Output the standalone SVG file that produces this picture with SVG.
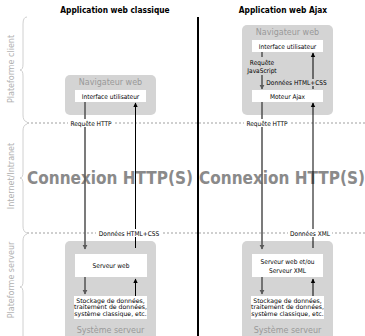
<svg xmlns="http://www.w3.org/2000/svg" width="365" height="336" viewBox="0 0 365 336">
  <defs>
    <style>
      .title { font-family: "DejaVu Sans Condensed", "DejaVu Sans", sans-serif; font-weight: bold; font-size: 8.3px; fill: #000; text-anchor: middle; }
      .big { font-family: "DejaVu Sans Condensed", "DejaVu Sans", sans-serif; font-weight: bold; font-size: 17px; fill: #8a8a8a; text-anchor: middle; }
      .grey { font-family: "DejaVu Sans", sans-serif; font-size: 8px; fill: #999; text-anchor: middle; }
      .side { font-family: "DejaVu Sans", sans-serif; font-size: 8px; fill: #b0b0b0; text-anchor: middle; }
      .small { font-family: "DejaVu Sans Condensed", "DejaVu Sans", sans-serif; font-size: 6.5px; fill: #000; text-anchor: middle; }
      .store { font-family: "DejaVu Sans", sans-serif; font-size: 6.2px; fill: #000; text-anchor: middle; }
      .panel { fill: #d4d4d4; }
      .inner { fill: #fff; }
      .brace { fill: none; stroke: #c4c4c4; stroke-width: 0.8; }
      .dash { stroke: #777; stroke-width: 0.7; stroke-dasharray: 2 2; fill: none; }
      .req { stroke: #5a5a5a; stroke-width: 1.6; fill: none; }
      .resp { stroke: #000; stroke-width: 1; fill: none; }
    </style>
    <marker id="headReq" markerUnits="userSpaceOnUse" markerWidth="6" markerHeight="6" refX="4" refY="3" orient="auto">
      <path d="M0,0.6 L4.5,3 L0,5.4 z" fill="#5a5a5a"/>
    </marker>
    <marker id="headResp" markerUnits="userSpaceOnUse" markerWidth="6" markerHeight="6" refX="4" refY="3" orient="auto">
      <path d="M0,0.8 L4.5,3 L0,5.2 z" fill="#000"/>
    </marker>
  </defs>

  <rect width="365" height="336" fill="#fff"/>

  <!-- column titles -->
  <text class="title" x="115" y="13">Application web classique</text>
  <text class="title" x="283" y="13">Application web Ajax</text>

  <!-- tier braces and labels -->
  <g id="tiers">
    <path class="brace" d="M27,17 Q23,17 23,24 L23,64 Q23,70 20,70 Q23,70 23,76 L23,115 Q23,121 27,122"/>
    <path class="brace" d="M27,124 Q23,125 23,131 L23,172 Q23,178 20,178 Q23,178 23,184 L23,226 Q23,232 27,233"/>
    <path class="brace" d="M27,234 Q23,235 23,241 L23,281 Q23,287 20,287 Q23,287 23,293 L23,340"/>
    <text class="side" transform="translate(14,69) rotate(-90)">Plateforme client</text>
    <text class="side" transform="translate(14,176) rotate(-90)">Internet/Intranet</text>
    <text class="side" transform="translate(14,280) rotate(-90)">Plateforme serveur</text>
  </g>

  <!-- tier boundaries -->
  <line class="dash" x1="27" y1="123" x2="365" y2="123"/>
  <line class="dash" x1="27" y1="233" x2="365" y2="233"/>

  <!-- network label -->
  <text class="big" x="110" y="184">Connexion HTTP(S)</text>
  <text class="big" x="282" y="184">Connexion HTTP(S)</text>

  <!-- classic: browser -->
  <g id="browser-classic">
    <rect class="panel" x="65" y="75" width="91" height="40" rx="5"/>
    <text class="grey" x="110.5" y="85">Navigateur web</text>
    <rect class="inner" x="75" y="90" width="71" height="12"/>
    <text class="small" x="110.5" y="98.5">Interface utilisateur</text>
  </g>

  <!-- classic: server -->
  <g id="server-classic">
    <rect class="panel" x="65" y="241" width="91" height="100" rx="5"/>
    <rect class="inner" x="75" y="254" width="72" height="23"/>
    <text class="small" x="111" y="268">Serveur web</text>
    <rect class="inner" x="74" y="296" width="73" height="23"/>
    <text class="store" x="110.5" y="302.5">Stockage de données,</text>
    <text class="store" x="110.5" y="309.1">traitement de données,</text>
    <text class="store" x="110.5" y="315.7">système classique, etc.</text>
    <text class="grey" x="110.5" y="333">Système serveur</text>
  </g>

  <!-- ajax: browser -->
  <g id="browser-ajax">
    <rect class="panel" x="242" y="25" width="91" height="90" rx="5"/>
    <text class="grey" x="287.5" y="35">Navigateur web</text>
    <rect class="inner" x="252" y="40" width="71" height="12"/>
    <text class="small" x="287.5" y="48.5">Interface utilisateur</text>
    <rect class="inner" x="252" y="90" width="71" height="12"/>
    <text class="small" x="287.5" y="98.5">Moteur Ajax</text>
  </g>

  <!-- ajax: server -->
  <g id="server-ajax">
    <rect class="panel" x="242" y="241" width="91" height="100" rx="5"/>
    <rect class="inner" x="252" y="254" width="71" height="23"/>
    <text class="small" x="287.5" y="264">Serveur web et/ou</text>
    <text class="small" x="287.5" y="273">Serveur XML</text>
    <rect class="inner" x="251" y="296" width="73" height="23"/>
    <text class="store" x="287.5" y="302.5">Stockage de données,</text>
    <text class="store" x="287.5" y="309.1">traitement de données,</text>
    <text class="store" x="287.5" y="315.7">système classique, etc.</text>
    <text class="grey" x="287.5" y="333">Système serveur</text>
  </g>

  <!-- column divider -->
  <line x1="198" y1="17" x2="198" y2="336" stroke="#000" stroke-width="2"/>

  <g id="connectors">
    <!-- classic -->
    <line class="req" x1="85" y1="102" x2="85" y2="249" marker-end="url(#headReq)"/>
    <line class="resp" x1="135.5" y1="248" x2="135.5" y2="103" marker-end="url(#headResp)"/>
    <line class="req" x1="85" y1="277" x2="85" y2="294" marker-end="url(#headReq)"/>
    <line class="resp" x1="135.5" y1="296" x2="135.5" y2="279" marker-end="url(#headResp)"/>
    <!-- ajax -->
    <line class="req" x1="262" y1="52" x2="262" y2="57"/>
    <line class="req" x1="262" y1="75" x2="262" y2="89" marker-end="url(#headReq)"/>
    <line class="resp" x1="313" y1="89" x2="313" y2="53" marker-end="url(#headResp)"/>
    <line class="req" x1="262" y1="102" x2="262" y2="249" marker-end="url(#headReq)"/>
    <line class="resp" x1="313" y1="248" x2="313" y2="103" marker-end="url(#headResp)"/>
    <line class="req" x1="262" y1="277" x2="262" y2="294" marker-end="url(#headReq)"/>
    <line class="resp" x1="313" y1="296" x2="313" y2="279" marker-end="url(#headResp)"/>
  </g>

  <!-- connector labels -->
  <g id="labels">
    <text class="small" x="262" y="64.5">Requête</text>
    <text class="small" x="262" y="72.5">JavaScript</text>
    <rect x="265" y="79" width="63" height="7" fill="#d4d4d4"/>
    <text class="small" x="296.5" y="84.5">Données HTML+CSS</text>

    <rect x="68" y="119" width="46" height="8" fill="#fff"/>
    <text class="small" x="91" y="125.5">Requête HTTP</text>
    <rect x="244" y="119" width="46" height="8" fill="#fff"/>
    <text class="small" x="267" y="125.5">Requête HTTP</text>

    <rect x="96" y="229" width="66" height="8" fill="#fff"/>
    <text class="small" x="129" y="235.5">Données HTML+CSS</text>
    <rect x="288" y="229" width="44" height="8" fill="#fff"/>
    <text class="small" x="310" y="235.5">Données XML</text>
  </g>
</svg>
